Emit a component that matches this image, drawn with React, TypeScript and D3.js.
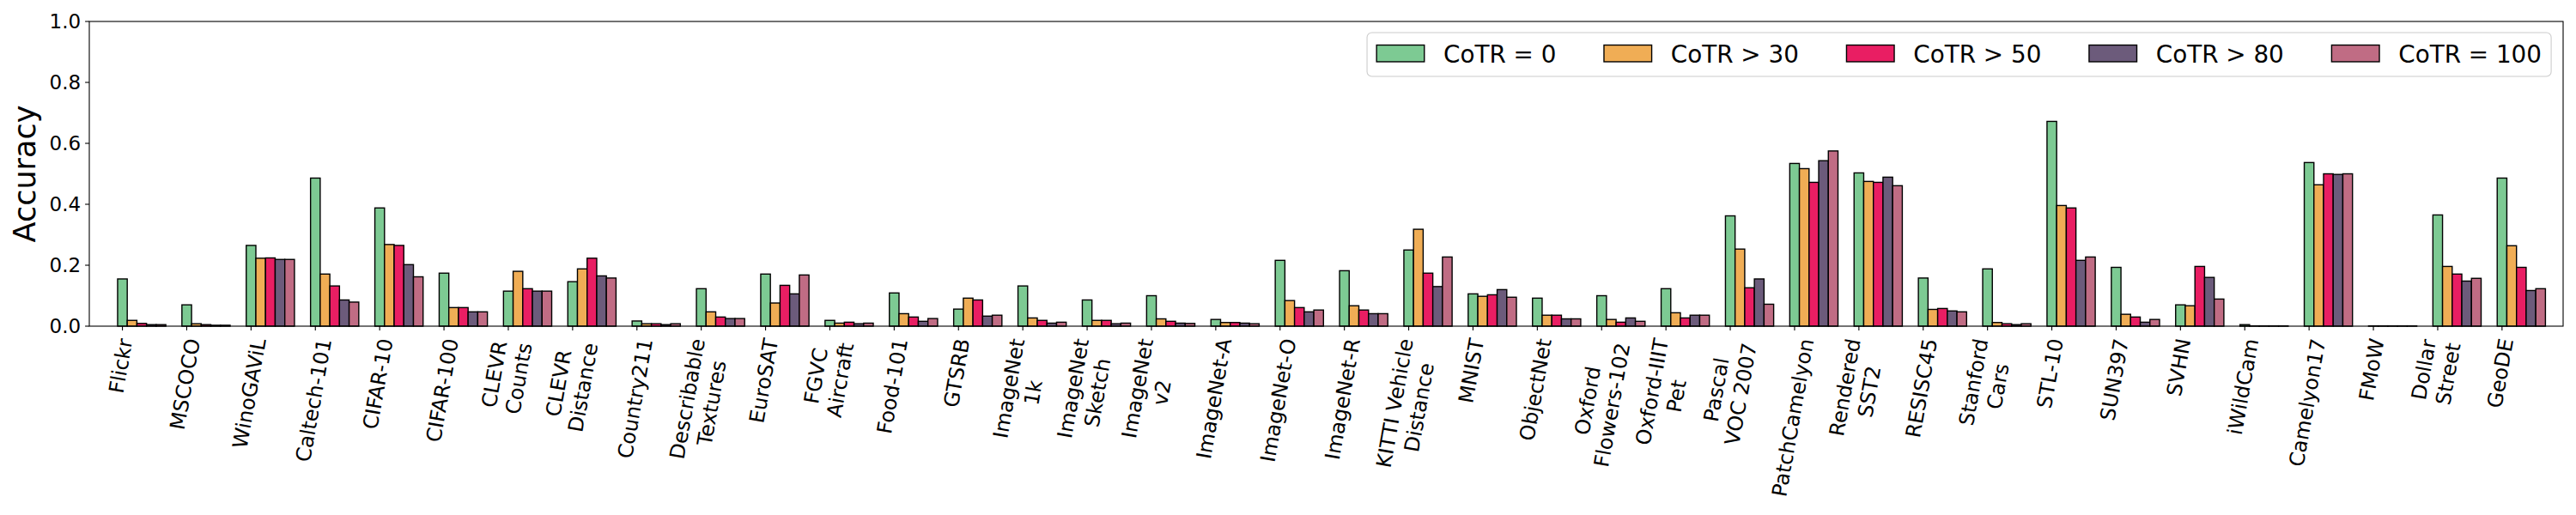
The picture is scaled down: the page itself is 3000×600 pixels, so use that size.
import * as d3 from "d3";

const categories = [
  "Flickr", "MSCOCO", "WinoGAViL", "Caltech-101", "CIFAR-10", "CIFAR-100",
  "CLEVR\nCounts", "CLEVR\nDistance", "Country211", "Describable\nTextures",
  "EuroSAT", "FGVC\nAircraft", "Food-101", "GTSRB", "ImageNet\n1k",
  "ImageNet\nSketch", "ImageNet\nv2", "ImageNet-A", "ImageNet-O", "ImageNet-R",
  "KITTI Vehicle\nDistance", "MNIST", "ObjectNet", "Oxford\nFlowers-102",
  "Oxford-IIIT\nPet", "Pascal\nVOC 2007", "PatchCamelyon", "Rendered\nSST2",
  "RESISC45", "Stanford\nCars", "STL-10", "SUN397", "SVHN", "iWildCam",
  "Camelyon17", "FMoW", "Dollar\nStreet", "GeoDE",
];

const seriesNames = ["CoTR = 0", "CoTR > 30", "CoTR > 50", "CoTR > 80", "CoTR = 100"];
const seriesColors = ["#7dca93", "#f0ad55", "#e91e63", "#6c5b7b", "#c06c84"];

const cotr0 = [0.155, 0.07, 0.265, 0.486, 0.388, 0.174, 0.115, 0.146, 0.017, 0.123, 0.171, 0.019, 0.109, 0.056, 0.132, 0.086, 0.1, 0.022, 0.216, 0.182, 0.25, 0.106, 0.092, 0.1, 0.123, 0.362, 0.534, 0.503, 0.158, 0.188, 0.672, 0.193, 0.07, 0.005, 0.537, 0.001, 0.365, 0.486];
const cotr30 = [0.019, 0.008, 0.223, 0.171, 0.268, 0.061, 0.18, 0.188, 0.008, 0.047, 0.076, 0.01, 0.041, 0.092, 0.027, 0.019, 0.024, 0.012, 0.084, 0.067, 0.318, 0.098, 0.036, 0.022, 0.044, 0.253, 0.517, 0.475, 0.055, 0.012, 0.396, 0.039, 0.067, 0.001, 0.464, 0.001, 0.196, 0.264];
const cotr50 = [0.009, 0.005, 0.224, 0.132, 0.265, 0.061, 0.123, 0.223, 0.008, 0.03, 0.134, 0.013, 0.03, 0.086, 0.019, 0.019, 0.016, 0.012, 0.061, 0.053, 0.174, 0.103, 0.036, 0.013, 0.027, 0.126, 0.472, 0.472, 0.058, 0.008, 0.388, 0.03, 0.196, 0.001, 0.5, 0.001, 0.171, 0.193];
const cotr80 = [0.005, 0.003, 0.219, 0.086, 0.202, 0.047, 0.115, 0.165, 0.005, 0.025, 0.106, 0.008, 0.016, 0.033, 0.01, 0.008, 0.01, 0.01, 0.047, 0.041, 0.13, 0.12, 0.024, 0.027, 0.036, 0.155, 0.543, 0.489, 0.05, 0.005, 0.216, 0.013, 0.16, 0.001, 0.498, 0.001, 0.148, 0.117];
const cotr100 = [0.005, 0.003, 0.219, 0.079, 0.162, 0.047, 0.115, 0.158, 0.008, 0.025, 0.168, 0.01, 0.025, 0.036, 0.013, 0.01, 0.009, 0.008, 0.053, 0.041, 0.227, 0.095, 0.024, 0.016, 0.036, 0.072, 0.575, 0.461, 0.047, 0.008, 0.227, 0.022, 0.089, 0.001, 0.5, 0.001, 0.157, 0.123];

const series = [cotr0, cotr30, cotr50, cotr80, cotr100];
const yTicks = [0, 0.2, 0.4, 0.6, 0.8, 1.0];

const FONT = '"DejaVu Sans", sans-serif';
const W = 3000;
const H = 600;
const left = 104;
const right = 2985;
const top = 25;
const bottom = 380;
const barW = 0.15;

const ctx = document.createElement("canvas").getContext("2d");
function textWidth(s: string, size: number) {
  if (!ctx) return s.length * size * 0.6;
  ctx.font = `${size}px "DejaVu Sans"`;
  return ctx.measureText(s).width;
}

export default function App() {
  const x = d3.scaleLinear().domain([-0.515, 37.95]).range([left, right]);
  const y = d3.scaleLinear().domain([0, 1]).range([bottom, top]);
  const bw = x(barW) - x(0);
  const fmt = d3.format(".1f");

  const tickLen = 4.9;
  const tickPad = 4.9;
  const xFs = 24;
  const yFs = 23;
  const rot = (80 * Math.PI) / 180;

  // legend layout, anchored to the upper right corner
  const lFs = 27.8;
  const patchW = 2 * lFs;
  const patchH = 0.7 * lFs;
  const handlePad = 0.8 * lFs;
  const colSpace = 2 * lFs;
  const borderPad = 0.4 * lFs;
  const widths = seriesNames.map((s) => textWidth(s, lFs));
  const boxRight = right - 0.5 * lFs;
  const contentW =
    widths.reduce((a, b) => a + b, 0) +
    seriesNames.length * (patchW + handlePad) +
    (seriesNames.length - 1) * colSpace;
  const boxLeft = boxRight - contentW - 2 * borderPad;
  const boxTop = 38;
  const boxBottom = 89;
  const colX: number[] = [];
  let cx = boxLeft + borderPad;
  widths.forEach((w) => {
    colX.push(cx);
    cx += patchW + handlePad + w + colSpace;
  });

  return (
    <svg
      width={W}
      height={H}
      style={{ position: "absolute", left: 0, top: 0, background: "#fff" }}
      fontFamily={FONT}
    >
      <rect x={0} y={0} width={W} height={H} fill="#fff" />

      {series.map((vals, s) =>
        vals.map((v, i) => (
          <rect
            key={`${s}-${i}`}
            x={x(i + s * barW) - bw / 2}
            y={y(v)}
            width={bw}
            height={bottom - y(v)}
            fill={seriesColors[s]}
            stroke="#000"
            strokeWidth={1.4}
          />
        ))
      )}

      {/* y axis */}
      {yTicks.map((t) => (
        <g key={t}>
          <line x1={left - tickLen} x2={left} y1={y(t)} y2={y(t)} stroke="#000" strokeWidth={1.1} />
          <text
            x={left - tickLen - tickPad}
            y={y(t)}
            textAnchor="end"
            dominantBaseline="central"
            fontSize={yFs}
          >
            {fmt(t)}
          </text>
        </g>
      ))}
      <text
        transform={`translate(41,${(top + bottom) / 2}) rotate(-90)`}
        textAnchor="middle"
        fontSize={35}
      >
        Accuracy
      </text>

      {/* x axis */}
      {categories.map((c, i) => {
        const lines = c.split("\n");
        const tx = x(i);
        const wMax = Math.max(...lines.map((l) => textWidth(l, xFs)));
        const lh = 1.2 * xFs;
        const hBlock = (lines.length - 1) * lh + xFs;
        const bboxH = wMax * Math.sin(rot) + hBlock * Math.cos(rot);
        const cy = 393 + bboxH / 2;
        return (
          <g key={c}>
            <line x1={tx} x2={tx} y1={bottom} y2={bottom + tickLen} stroke="#000" strokeWidth={1.1} />
            <text
              transform={`translate(${tx},${cy}) rotate(-80)`}
              textAnchor="middle"
              fontSize={xFs}
            >
              {lines.map((l, k) => (
                <tspan key={k} x={0} y={-hBlock / 2 + 0.76 * xFs + k * lh}>
                  {l}
                </tspan>
              ))}
            </text>
          </g>
        );
      })}

      {/* frame */}
      <rect
        x={left}
        y={top}
        width={right - left}
        height={bottom - top}
        fill="none"
        stroke="#000"
        strokeWidth={1.1}
      />

      {/* legend */}
      <rect
        x={boxLeft}
        y={boxTop}
        width={boxRight - boxLeft}
        height={boxBottom - boxTop}
        rx={5.5}
        fill="#fff"
        fillOpacity={0.8}
        stroke="#cccccc"
        strokeWidth={1.1}
      />
      {seriesNames.map((s, k) => (
        <g key={s}>
          <rect
            x={colX[k]}
            y={52.5}
            width={patchW}
            height={patchH}
            fill={seriesColors[k]}
            stroke="#000"
            strokeWidth={1.4}
          />
          <text x={colX[k] + patchW + handlePad} y={72.5} fontSize={lFs}>
            {s}
          </text>
        </g>
      ))}
    </svg>
  );
}
